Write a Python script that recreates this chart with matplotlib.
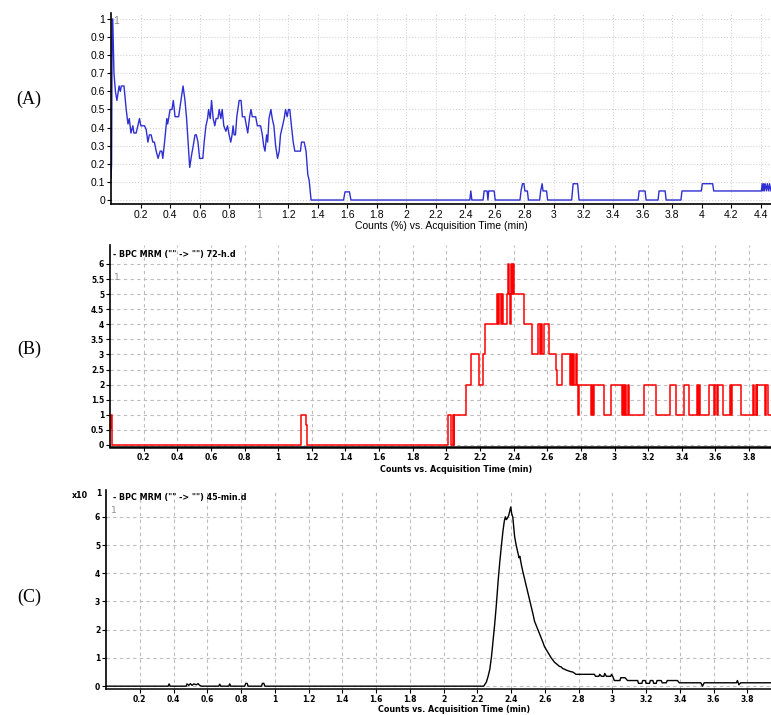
"""Chromatogram panels (A)-(C): BPC MRM traces vs acquisition time."""

import matplotlib
matplotlib.use('Agg')
import matplotlib.pyplot as plt
import numpy as np

# ---- data ----
# (A) counts (%) vs time, blue trace
a_time = [0.0, 0.004, 0.008, 0.012, 0.02, 0.03, 0.04, 0.055, 0.063, 0.07, 0.088,
          0.103, 0.115, 0.124, 0.135, 0.148, 0.155, 0.17, 0.182, 0.193, 0.202,
          0.227, 0.238, 0.25, 0.26, 0.272, 0.283, 0.294, 0.306, 0.319, 0.333,
          0.344, 0.351, 0.364, 0.378, 0.384, 0.4, 0.413, 0.422, 0.434, 0.458,
          0.474, 0.488, 0.501, 0.512, 0.524, 0.533, 0.546, 0.557, 0.569, 0.578,
          0.589, 0.6, 0.622, 0.631, 0.643, 0.654, 0.661, 0.672, 0.681, 0.692,
          0.703, 0.712, 0.724, 0.733, 0.744, 0.753, 0.764, 0.778, 0.789, 0.8,
          0.811, 0.82, 0.827, 0.834, 0.843, 0.852, 0.868, 0.881, 0.89, 0.906,
          0.917, 0.926, 0.939, 0.948, 0.957, 0.98, 0.991, 1.013, 1.025, 1.034,
          1.043, 1.054, 1.061, 1.07, 1.083, 1.092, 1.103, 1.115, 1.128, 1.139,
          1.148, 1.162, 1.173, 1.182, 1.193, 1.202, 1.211, 1.222, 1.234, 1.245,
          1.283, 1.29, 1.308, 1.321, 1.333, 1.342, 1.355,
          1.575, 1.585, 1.615, 1.625,
          2.43, 2.437, 2.444,
          2.52, 2.527, 2.547, 2.553, 2.558, 2.595, 2.602,
          2.77, 2.777, 2.787, 2.797, 2.803, 2.82, 2.827,
          2.903, 2.91, 2.92, 2.926, 2.95, 2.957,
          3.12, 3.13, 3.16, 3.17,
          3.57, 3.577, 3.617, 3.624,
          3.705, 3.712, 3.753, 3.76,
          3.86, 3.867, 3.998, 4.005, 4.075, 4.082,
          4.405, 4.41, 4.415, 4.42, 4.425, 4.43, 4.44, 4.445, 4.455, 4.46, 4.47]
a_counts = [0.12, 0.2, 1.0, 1.0, 0.7, 0.6, 0.55, 0.63, 0.6, 0.63, 0.63,
            0.5, 0.42, 0.45, 0.37, 0.41, 0.37, 0.37, 0.41, 0.45, 0.41,
            0.41, 0.39, 0.32, 0.36, 0.36, 0.32, 0.32, 0.27, 0.23, 0.27,
            0.27, 0.23, 0.33, 0.45, 0.42, 0.5, 0.5, 0.55, 0.46, 0.46,
            0.55, 0.63, 0.55, 0.45, 0.3, 0.18, 0.25, 0.3, 0.36, 0.36,
            0.32, 0.23, 0.23, 0.32, 0.41, 0.45, 0.5, 0.45, 0.55, 0.45,
            0.41, 0.45, 0.45, 0.5, 0.45, 0.5, 0.41, 0.38, 0.41, 0.36,
            0.32, 0.36, 0.41, 0.36, 0.36, 0.46, 0.55, 0.55, 0.46, 0.46,
            0.41, 0.37, 0.46, 0.5, 0.46, 0.46, 0.41, 0.41, 0.36, 0.3,
            0.27, 0.36, 0.32, 0.45, 0.5, 0.45, 0.41, 0.3, 0.23, 0.27,
            0.36, 0.41, 0.45, 0.5, 0.46, 0.5, 0.5, 0.41, 0.32, 0.27,
            0.27, 0.32, 0.32, 0.27, 0.14, 0.11, 0.0,
            0.0, 0.045, 0.045, 0.0,
            0.0, 0.05, 0.0,
            0.0, 0.05, 0.05, 0.0, 0.05, 0.05, 0.0,
            0.0, 0.05, 0.09, 0.09, 0.05, 0.05, 0.0,
            0.0, 0.05, 0.09, 0.05, 0.05, 0.0,
            0.0, 0.09, 0.09, 0.0,
            0.0, 0.05, 0.05, 0.0,
            0.0, 0.05, 0.05, 0.0,
            0.0, 0.05, 0.05, 0.09, 0.09, 0.05,
            0.05, 0.09, 0.05, 0.09, 0.05, 0.09, 0.05, 0.09, 0.05, 0.09, 0.05]

# (B) 72-h.d counts, red step trace
b_time = [0.0, 0.005, 0.013, 1.137, 1.164, 1.172,
          2.010, 2.030, 2.037, 2.043, 2.047, 2.067, 2.118, 2.148, 2.195, 2.217,
          2.231, 2.298, 2.306, 2.314, 2.323, 2.329, 2.335, 2.343, 2.359, 2.367,
          2.373, 2.379, 2.385, 2.393, 2.398, 2.404, 2.408, 2.463, 2.507, 2.546,
          2.556, 2.562, 2.568, 2.576, 2.582, 2.609, 2.651, 2.659, 2.688, 2.734,
          2.738, 2.748, 2.753, 2.759, 2.769, 2.775, 2.783, 2.789, 2.862, 2.866,
          2.872, 2.878, 2.886, 2.937, 2.980, 3.045, 3.049, 3.055, 3.063, 3.069,
          3.079, 3.083, 3.174, 3.247, 3.331, 3.335, 3.365, 3.414, 3.444, 3.489,
          3.495, 3.503, 3.509, 3.562, 3.592, 3.596, 3.611, 3.617, 3.647, 3.686,
          3.692, 3.700, 3.750, 3.824, 3.828, 3.838, 3.844, 3.848, 3.897, 3.903,
          3.911, 3.917, 3.94]
b_counts = [0.55, 1, 0, 1, 0.65, 0,
            1, 0, 1, 0, 1, 1, 2, 3, 2, 3,
            4, 5, 4, 5, 4, 5, 4, 4, 5, 6,
            5, 4, 6, 5, 6, 5, 5, 4, 3, 4,
            3, 4, 3, 3, 4, 3, 2.5, 2, 3, 2,
            3, 2, 3, 2, 3, 2, 1, 2, 1, 2,
            1, 2, 2, 1, 2, 1, 2, 1, 2, 1,
            2, 1, 2, 1, 2, 2, 1, 2, 1, 2,
            1, 2, 1, 2, 1, 2, 1, 2, 1, 2,
            1, 2, 1, 2, 1, 2, 1, 2, 1, 2,
            1, 1, 1]

# (C) 45-min.d counts (x10^1), black trace
c_time = [0.0, 0.368, 0.374, 0.38, 0.475, 0.48, 0.49, 0.5, 0.51, 0.52, 0.535,
          0.545, 0.555, 0.566, 0.668, 0.674, 0.68, 0.727, 0.733, 0.739,
          0.822, 0.828, 0.836, 0.842, 0.921, 0.927, 0.935, 0.941,
          2.238, 2.254, 2.264, 2.274, 2.284, 2.293, 2.303, 2.313, 2.323, 2.333,
          2.343, 2.352, 2.36, 2.366, 2.372, 2.378, 2.386, 2.392, 2.398, 2.404,
          2.41, 2.416, 2.421, 2.43, 2.441, 2.447, 2.452, 2.461, 2.47, 2.48,
          2.49, 2.5, 2.51, 2.52, 2.53, 2.539, 2.549, 2.559, 2.569, 2.579,
          2.589, 2.598, 2.608, 2.618, 2.628, 2.638, 2.648, 2.657, 2.667, 2.677,
          2.687, 2.697, 2.707, 2.717, 2.727, 2.736, 2.75, 2.766, 2.775, 2.785,
          2.894, 2.9, 2.92, 2.925, 2.935, 2.95, 2.955, 2.965, 2.99, 2.995,
          3.002, 3.012, 3.045, 3.05, 3.075, 3.09, 3.15, 3.155, 3.175, 3.18,
          3.195, 3.2, 3.22, 3.225, 3.24, 3.245, 3.26, 3.265, 3.29, 3.295,
          3.32, 3.325, 3.386, 3.396, 3.524, 3.534, 3.544, 3.735, 3.741, 3.75,
          3.76, 3.94]
c_counts = [0.0, 0.0, 0.08, 0.0, 0.0, 0.08, 0.03, 0.09, 0.03, 0.08, 0.05,
            0.09, 0.03, 0.0, 0.0, 0.07, 0.0, 0.0, 0.08, 0.0,
            0.0, 0.1, 0.1, 0.0, 0.0, 0.1, 0.1, 0.0,
            0.0, 0.15, 0.35, 0.6, 1.05, 1.6, 2.2, 2.9, 3.7, 4.4,
            5.0, 5.5, 5.85, 6.0, 5.9, 5.95, 6.05, 6.2, 6.35, 6.1,
            6.0, 5.6, 5.3, 5.0, 4.7, 4.55, 4.6, 4.3, 4.05, 3.8,
            3.55, 3.3, 3.05, 2.8, 2.55, 2.3, 2.15, 2.0, 1.85, 1.7,
            1.55, 1.4, 1.3, 1.2, 1.1, 1.0, 0.92, 0.85, 0.8, 0.75,
            0.7, 0.68, 0.62, 0.6, 0.57, 0.55, 0.52, 0.5, 0.46, 0.42,
            0.42, 0.35, 0.35, 0.42, 0.35, 0.35, 0.45, 0.35, 0.35, 0.42,
            0.35, 0.2, 0.2, 0.3, 0.3, 0.2, 0.2, 0.1, 0.1, 0.2,
            0.2, 0.1, 0.1, 0.2, 0.2, 0.1, 0.1, 0.2, 0.2, 0.12,
            0.12, 0.2, 0.2, 0.12, 0.12, 0.0, 0.12, 0.12, 0.2, 0.05,
            0.12, 0.12]

a_xticks = [0.2, 0.4, 0.6, 0.8, 1, 1.2, 1.4, 1.6, 1.8, 2, 2.2, 2.4, 2.6, 2.8,
            3, 3.2, 3.4, 3.6, 3.8, 4, 4.2, 4.4]
a_yticks = [0, 0.1, 0.2, 0.3, 0.4, 0.5, 0.6, 0.7, 0.8, 0.9, 1]
bc_xticks = [0.2, 0.4, 0.6, 0.8, 1, 1.2, 1.4, 1.6, 1.8, 2, 2.2, 2.4, 2.6, 2.8,
             3, 3.2, 3.4, 3.6, 3.8]
b_yticks = [0, 0.5, 1, 1.5, 2, 2.5, 3, 3.5, 4, 4.5, 5, 5.5, 6]
c_yticks = [0, 1, 2, 3, 4, 5, 6]

COLORS = {
    'a': '#2f2fd2',
    'b': '#ff0000',
    'c': '#000000',
    'grid_a': '#d4d4d4',
    'grid_bc': '#bcbcbc',
    'gray': '#8a8a8a',
}

W, H = 771, 715
fig = plt.figure(figsize=(W / 100, H / 100), dpi=100)
fig.patch.set_facecolor('white')


def px_rect(left, top, right, bottom):
    return [left / W, 1 - bottom / H, (right - left) / W, (bottom - top) / H]


def fmt(v):
    return f'{v:g}'


def style_axes(ax, xticks, yticks, grid_color, grid_ls, font, size, weight):
    for s in ('top', 'right'):
        ax.spines[s].set_visible(False)
    ax.set_xticks(xticks, [fmt(v) for v in xticks])
    ax.set_yticks(yticks, [fmt(v) for v in yticks])
    ax.tick_params(axis='both', length=3, width=0.8, pad=1.2)
    for lab in ax.get_xticklabels() + ax.get_yticklabels():
        lab.set_fontfamily(font)
        lab.set_fontsize(size)
        lab.set_fontweight(weight)
    ax.grid(True, color=grid_color, linestyle=grid_ls, linewidth=0.8)
    ax.set_axisbelow(True)


# ---- (A) ----
ax = fig.add_axes(px_rect(111, 13, 771, 204))
ax.plot(a_time, a_counts, color=COLORS['a'], linewidth=1.0)
ax.set_xlim(0, 4.47)
ax.set_ylim(-0.022, 1.033)
style_axes(ax, a_xticks, a_yticks, COLORS['grid_a'], ':', 'Liberation Sans', 7.5, 'normal')
for lab in ax.get_xticklabels():
    if lab.get_text() == '1':
        lab.set_color(COLORS['gray'])
ax.spines['left'].set_linewidth(1.2)
ax.spines['bottom'].set_linewidth(1.2)
ax.set_xlabel('Counts (%) vs. Acquisition Time (min)', fontfamily='Liberation Sans',
              fontsize=7.5, labelpad=1)
ax.text(0.004, 0.985, '1', transform=ax.transAxes, ha='left', va='top',
        color=COLORS['gray'], fontsize=7.5, fontfamily='Liberation Sans')

# ---- (B) ----
ax = fig.add_axes(px_rect(110, 245, 771, 447))
ax.step(b_time, b_counts, where='post', color=COLORS['b'], linewidth=1.1)
ax.set_xlim(0, 3.93)
ax.set_ylim(-0.07, 6.63)
style_axes(ax, bc_xticks, b_yticks, COLORS['grid_bc'], (0, (3, 3)), 'DejaVu Sans', 5.5, 'bold')
ax.spines['left'].set_linewidth(1.2)
ax.spines['bottom'].set_linewidth(1.8)
ax.set_xlabel('Counts vs. Acquisition Time (min)', fontsize=5.8, fontweight='bold',
              labelpad=2, x=0.523)
ax.text(0.004, 0.975, '- BPC MRM ("" -> "") 72-h.d', transform=ax.transAxes,
        ha='left', va='top', fontsize=5.8, fontweight='bold')
ax.text(0.006, 0.86, '1', transform=ax.transAxes, ha='left', va='top',
        color=COLORS['gray'], fontsize=6.5)

# ---- (C) ----
ax = fig.add_axes(px_rect(106, 490, 771, 689))
ax.plot(c_time, c_counts, color=COLORS['c'], linewidth=1.0)
ax.set_xlim(0, 3.94)
ax.set_ylim(-0.1, 6.95)
style_axes(ax, bc_xticks, c_yticks, COLORS['grid_bc'], (0, (3, 3)), 'DejaVu Sans', 5.5, 'bold')
ax.spines['left'].set_linewidth(1.2)
ax.spines['bottom'].set_linewidth(1.1)
ax.set_xlabel('Counts vs. Acquisition Time (min)', fontsize=5.8, fontweight='bold',
              labelpad=0.5, x=0.523)
ax.text(0.01, 0.985, '- BPC MRM ("" -> "") 45-min.d', transform=ax.transAxes,
        ha='left', va='top', fontsize=5.8, fontweight='bold')
ax.text(0.008, 0.92, '1', transform=ax.transAxes, ha='left', va='top',
        color=COLORS['gray'], fontsize=6.5)
fig.text(72 / W, 1 - 495 / H, 'x10', ha='left', va='center', fontsize=5.8, fontweight='bold')
fig.text(96 / W, 1 - 493 / H, '1', ha='left', va='center', fontsize=5.5, fontweight='bold')

# ---- panel labels ----
for lab, y in (('(A)', 99), ('(B)', 349), ('(C)', 597)):
    fig.text(29 / W, 1 - y / H, lab, ha='center', va='center',
             fontfamily='Liberation Serif', fontsize=13)

fig.savefig('out.png', dpi=100, facecolor='white')
plt.close(fig)
